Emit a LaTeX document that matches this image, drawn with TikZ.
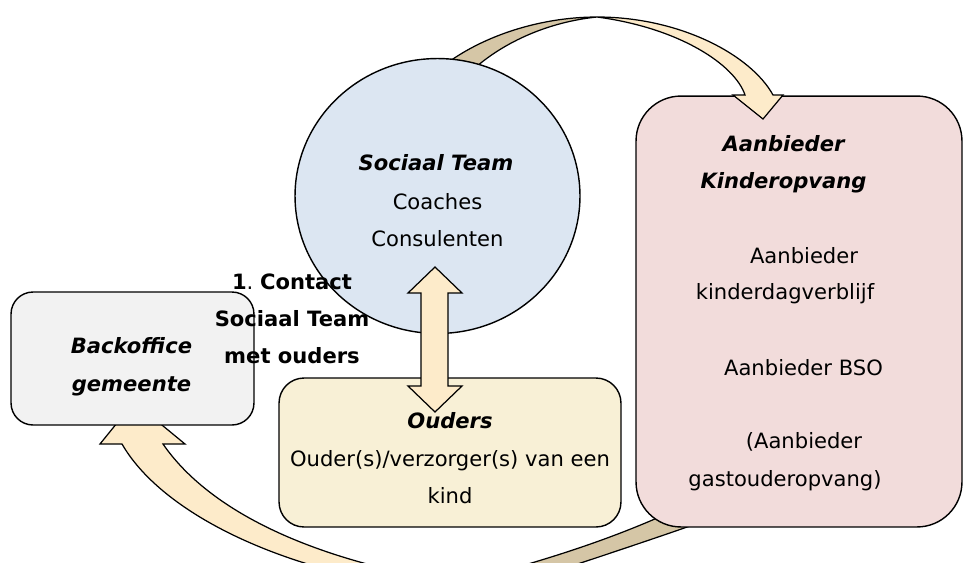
\documentclass[tikz,border=0pt]{standalone}
\usepackage{fontspec}
\setmainfont{DejaVu Sans}
\usepackage{tikz}
\usetikzlibrary{shapes.geometric}

\definecolor{teamblue}{HTML}{DCE6F2}
\definecolor{backgray}{HTML}{F2F2F2}
\definecolor{ouderyellow}{HTML}{F8F0D6}
\definecolor{aanbiederrose}{HTML}{F2DCDB}
\definecolor{arrowlight}{HTML}{FDEBCA}
\definecolor{arrowdark}{HTML}{D5C6A6}

\tikzset{
  blok/.style={draw=black, line width=0.8pt, rounded corners=#1, inner sep=0pt},
  regel/.style={anchor=base, inner sep=0pt, font=\fontsize{12}{14}\selectfont},
  kop/.style={regel, font=\fontsize{12}{14}\selectfont\bfseries\itshape},
  vet/.style={regel, font=\fontsize{12}{14}\selectfont\bfseries},
  pijl/.style={draw=black, line width=0.7pt, line join=miter}
}

\begin{document}
\begin{tikzpicture}[x=0.02cm, y=-0.02cm]
  \useasboundingbox (0,0) rectangle (963,562);
  \clip (0,0) rectangle (963,562);

  % onderste pijl terug naar de backoffice
  \filldraw[pijl, fill=arrowlight] (122,444) .. controls (160,510) and (270,565) .. (400,585)
    -- (470,585) .. controls (300,560) and (205,505) .. (163,444)
    -- (185,444) -- (134,402) -- (100,444) -- cycle;
  \filldraw[pijl, fill=arrowdark] (664,515) .. controls (630,530) and (580,550) .. (500,572)
    -- (520,583) .. controls (590,560) and (650,540) .. (690,526) -- cycle;

  % blokken
  \node[blok=0.44cm, fill=backgray, minimum width=4.86cm, minimum height=2.66cm] (backoffice) at (132.5,358.5) {};
  \node[blok=0.5cm, fill=ouderyellow, minimum width=6.84cm, minimum height=2.98cm] (ouders) at (450,452.5) {};
  \node[blok=0.9cm, fill=aanbiederrose, minimum width=6.52cm, minimum height=8.62cm] (aanbieder) at (799,311.5) {};

  % bovenste pijl naar de aanbieder
  \filldraw[pijl, fill=arrowdark] (450,61) .. controls (490,33) and (545,17) .. (597,17)
    .. controls (548,22) and (505,42) .. (476,67) -- cycle;
  \filldraw[pijl, fill=arrowlight] (597,17) .. controls (680,17) and (751,55) .. (773,95)
    -- (783,95) -- (763,119) -- (733,95) -- (745,95)
    .. controls (735,65) and (680,28) .. (597,17) -- cycle;

  \node[ellipse, draw=black, line width=0.8pt, fill=teamblue, minimum width=5.7cm, minimum height=5.5cm, inner sep=0pt] (team) at (437.5,196) {};

  % dubbele pijl tussen team en ouders
  \filldraw[pijl, fill=arrowlight] (435,267) -- (462,293) -- (448,293) -- (448,386) -- (462,386)
    -- (435,412) -- (408,386) -- (421,386) -- (421,293) -- (408,293) -- cycle;

  % teksten
  \node[kop] (teamkop) at (436,170) {Sociaal Team};
  \node[regel] (coaches) at (437.5,209) {Coaches};
  \node[regel] (consulenten) at (437.5,246.5) {Consulenten};

  \node[regel] (stap1) at (292,289) {\textbf{1}.\ \textbf{Contact}};
  \node[vet] (stap2) at (292,326.5) {Sociaal Team};
  \node[vet] (stap3) at (292,363.5) {met ouders};

  \node[kop] (backkop1) at (131.5,353) {Backoffice};
  \node[kop] (backkop2) at (131.5,391) {gemeente};

  \node[kop] (ouderkop) at (450,428) {Ouders};
  \node[regel] (ouder1) at (450,466) {Ouder(s)/verzorger(s) van een};
  \node[regel] (ouder2) at (450,503) {kind};

  \node[kop] (aankop1) at (783.5,151) {Aanbieder};
  \node[kop] (aankop2) at (783.5,188) {Kinderopvang};
  \node[regel] (kdv1) at (804,263) {Aanbieder};
  \node[regel] (kdv2) at (785,299.5) {kinderdagverblijf};
  \node[regel] (bso) at (803.5,375) {Aanbieder BSO};
  \node[regel] (gast1) at (804,448) {(Aanbieder};
  \node[regel] (gast2) at (785,486.5) {gastouderopvang)};
\end{tikzpicture}
\end{document}
